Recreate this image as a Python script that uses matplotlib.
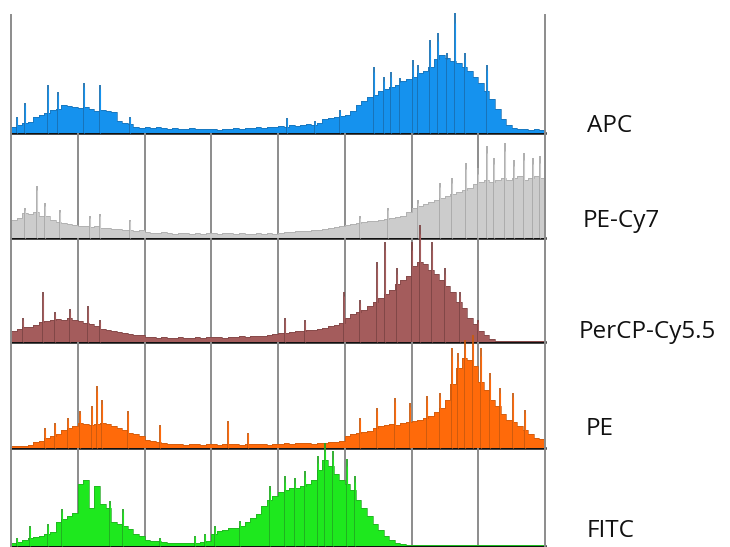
import matplotlib.pyplot as plt
import numpy as np

# heights of each histogram (96 bins over 8 decades)
apc = [6, 8, 10, 11, 16, 18, 20, 23, 24, 28, 27, 26, 25, 26, 24, 22, 23, 22, 21, 12,
       10, 9, 6, 5, 6, 5, 6, 5, 4, 5, 4, 4, 5, 4, 4, 4, 4, 3, 4, 4,
       5, 4, 5, 5, 6, 5, 6, 6, 7, 6, 8, 7, 8, 9, 8, 10, 14, 15, 16, 17,
       18, 22, 28, 32, 36, 38, 42, 44, 46, 48, 52, 54, 56, 60, 62, 66, 74, 78, 75, 72,
       70, 66, 62, 56, 50, 42, 34, 24, 14, 8, 5, 4, 4, 3, 4, 3]
pecy7 = [18, 20, 25, 24, 26, 22, 22, 18, 16, 15, 14, 13, 12, 12, 11, 12, 10, 10, 9, 9,
         8, 8, 7, 8, 6, 5, 5, 6, 5, 4, 5, 5, 4, 5, 4, 5, 5, 4, 5, 5,
         4, 5, 4, 4, 5, 4, 5, 4, 5, 6, 6, 7, 7, 7, 8, 8, 9, 10, 11, 12,
         13, 14, 15, 16, 17, 17, 18, 19, 20, 21, 22, 26, 30, 32, 34, 36, 38, 40, 42, 44,
         46, 48, 50, 54, 56, 58, 56, 58, 60, 58, 60, 62, 58, 60, 62, 60]
percp = [11, 13, 15, 15, 17, 20, 21, 22, 23, 22, 24, 22, 21, 19, 18, 16, 13, 12, 11, 10,
         9, 8, 7, 7, 5, 5, 4, 5, 4, 4, 5, 4, 4, 5, 4, 5, 5, 5, 4, 5,
         5, 6, 5, 6, 6, 6, 7, 8, 9, 9, 10, 11, 11, 12, 12, 13, 14, 16, 17, 19,
         24, 28, 30, 32, 36, 40, 44, 48, 52, 58, 62, 66, 76, 80, 78, 72, 68, 62, 56, 50,
         40, 34, 24, 18, 11, 7, 3, 1, 1, 1, 1, 1, 1, 1, 1, 1]
pe = [2, 2, 2, 3, 6, 7, 10, 12, 14, 18, 20, 22, 25, 24, 23, 24, 25, 24, 22, 20,
      18, 15, 14, 12, 8, 7, 6, 5, 4, 4, 4, 3, 4, 4, 3, 4, 4, 3, 4, 4,
      4, 3, 4, 4, 4, 4, 3, 4, 4, 5, 4, 5, 5, 5, 4, 5, 5, 6, 6, 7,
      12, 14, 15, 16, 17, 20, 22, 23, 24, 23, 25, 26, 27, 28, 30, 32, 36, 40, 48, 64,
      80, 90, 88, 82, 66, 58, 48, 42, 34, 28, 26, 22, 18, 14, 10, 9]
fitc = [3, 4, 6, 8, 9, 10, 12, 14, 24, 27, 30, 33, 62, 66, 38, 60, 42, 38, 24, 22,
        20, 17, 12, 10, 6, 5, 5, 4, 3, 3, 3, 3, 3, 3, 4, 5, 12, 15, 16, 18,
        18, 20, 24, 28, 32, 40, 46, 50, 54, 56, 58, 58, 60, 62, 66, 76, 86, 80, 72, 66,
        62, 56, 46, 38, 30, 22, 16, 10, 6, 3, 2, 1, 1, 1, 1, 1, 1, 1, 1, 1,
        1, 1, 1, 1, 1, 1, 1, 1, 1, 1, 1, 1, 1, 1, 1, 1]

# narrow spikes on top of the histograms: position (decades) and height
apc_spk_x = [0.09, 0.21, 0.55, 0.70, 1.09, 1.33, 1.78, 4.13, 4.55, 4.93, 5.44, 5.59, 5.69,
             5.83, 6.02, 6.10, 6.28, 6.40, 6.53, 6.65, 6.80, 7.13]
apc_spk_h = [16, 30, 48, 41, 50, 48, 16, 15, 12, 23, 66, 56, 61, 55, 73, 68, 93, 100, 80,
             120, 80, 68]
pecy7_spk_x = [0.21, 0.39, 0.51, 0.73, 1.18, 1.33, 1.78, 5.23, 5.65, 6.10, 6.43, 6.61,
               6.82, 7.00, 7.13, 7.24, 7.40, 7.54, 7.69, 7.82, 7.93]
pecy7_spk_h = [30, 52, 35, 28, 22, 24, 18, 22, 30, 38, 55, 60, 75, 70, 92, 80, 95, 78,
               85, 80, 82]
percp_spk_x = [0.18, 0.48, 0.66, 0.88, 1.15, 1.33, 4.10, 4.40, 4.99, 5.23, 5.48, 5.60,
               5.78, 6.01, 6.13, 6.31, 6.50, 6.73, 7.00]
percp_spk_h = [24, 50, 30, 33, 36, 22, 24, 22, 50, 42, 80, 100, 74, 100, 117, 100, 74,
               50, 22]
pe_spk_x = [0.51, 0.66, 0.85, 1.03, 1.21, 1.29, 1.36, 1.75, 2.23, 3.25, 3.55, 5.23, 5.48,
            5.75, 5.98, 6.23, 6.43, 6.61, 6.70, 6.80, 6.92, 7.04, 7.18, 7.33, 7.52, 7.70]
pe_spk_h = [20, 25, 30, 37, 42, 62, 48, 37, 23, 27, 15, 30, 40, 50, 45, 52, 55, 100, 95,
            108, 113, 100, 75, 60, 55, 38]
fitc_spk_x = [0.09, 0.28, 0.55, 0.76, 1.48, 1.68, 2.23, 2.76, 2.91, 3.06, 3.43, 3.88,
              4.10, 4.25, 4.40, 4.60, 4.70, 4.82, 5.03, 5.15]
fitc_spk_h = [8, 20, 22, 37, 45, 37, 8, 10, 12, 20, 25, 60, 70, 68, 75, 90, 103, 95, 87, 70]

labels = ['APC', 'PE-Cy7', 'PerCP-Cy5.5', 'PE', 'FITC']
colors = ['#1592ee', '#cccccc', '#a45c5c', '#ff6a0a', '#1ee81e']
edge_colors = ['#1a6fb0', '#a8a8a8', '#7d4444', '#c85a10', '#22a822']

series = [apc, pecy7, percp, pe, fitc]
spikes = [(apc_spk_x, apc_spk_h), (pecy7_spk_x, pecy7_spk_h), (percp_spk_x, percp_spk_h),
          (pe_spk_x, pe_spk_h), (fitc_spk_x, fitc_spk_h)]

plt.rcParams['font.family'] = ['Open Sans', 'DejaVu Sans']

W, H = 730, 547
fig = plt.figure(figsize=(W / 100, H / 100), dpi=100)

# panel extents in pixels (top, bottom), and label anchor (x, baseline y)
panels = [(15, 133), (133, 238), (238, 342), (342, 448), (448, 546)]
label_pos = [(587, 132), (583, 227), (579, 338), (586, 435), (587, 537)]
x0, x1 = 11, 545
edges = np.linspace(0, 8, len(apc) + 1)

for k, (top, bot) in enumerate(panels):
    ax = fig.add_axes([x0 / W, 1 - bot / H, (x1 - x0) / W, (bot - top) / H])
    ax.set_xlim(0, 8)
    ax.set_ylim(0, bot - top)
    ax.set_xticks([])
    ax.set_yticks([])
    ax.patch.set_alpha(0)
    for s in ['left', 'right']:
        ax.spines[s].set_color('#8c8c8c')
        ax.spines[s].set_linewidth(1.4)
    ax.spines['top'].set_visible(False)
    ax.spines['bottom'].set_color('#111111')
    ax.spines['bottom'].set_linewidth(1.8)
    ax.spines['bottom'].set_zorder(1)
    if k > 0:
        for g in range(1, 8):
            ax.axvline(g, color='#8c8c8c', lw=1.4, zorder=0)

    ax.stairs(series[k], edges, fill=True, color=colors[k], zorder=2, clip_on=False)
    ax.stairs(series[k], edges, color=edge_colors[k], lw=0.5, zorder=2, clip_on=False)
    sx, sh = spikes[k]
    ax.vlines(sx, 0, sh, color=edge_colors[k], lw=1.3, zorder=3, clip_on=False)
    ax.vlines(sx, 0, np.array(sh) * 0.92, color=colors[k], lw=0.8, zorder=3, clip_on=False)

    lx, ly = label_pos[k]
    fig.text(lx / W, 1 - ly / H, labels[k], fontsize=17.5, va='baseline', ha='left',
             color='#111111')

fig.savefig('out.png', dpi=100)
